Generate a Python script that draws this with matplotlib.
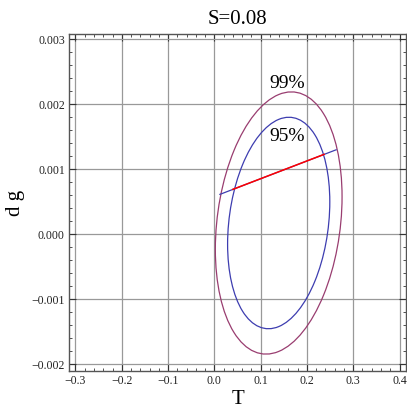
import matplotlib
matplotlib.use("Agg")
import matplotlib.pyplot as plt
import numpy as np
from matplotlib.patches import Ellipse
from matplotlib.transforms import Affine2D
from matplotlib.ticker import MultipleLocator, FuncFormatter

# ---- data ----
center_T = 0.139
center_g = 0.000175
sigma_T = 0.0451
sigma_g = 0.000664
rho = 0.20
chi2_levels = [5.991, 9.210]
level_labels = ["95%", "99%"]
level_colors = ["#3d3db0", "#993d70"]

line_T = [0.012, 0.263]
line_g = [0.000615, 0.00130]
red_T = [0.040, 0.237]
red_g = [0.000692, 0.00123]

label_pos_T = [0.157, 0.157]
label_pos_g = [0.00150, 0.00232]

plt.rcParams['font.family'] = ['Liberation Serif', 'DejaVu Serif']

fig = plt.figure(figsize=(4.07, 4.11), dpi=100)
ax = fig.add_axes([69/407, 1-371/411, (406-69)/407, (371-34)/411])

cov = np.array([[sigma_T**2, rho*sigma_T*sigma_g],
                [rho*sigma_T*sigma_g, sigma_g**2]])
L = np.linalg.cholesky(cov)
for c2, col in zip(chi2_levels, level_colors):
    s = np.sqrt(c2)
    M = np.eye(3)
    M[:2, :2] = L * s
    M[0, 2] = center_T
    M[1, 2] = center_g
    tr = Affine2D(M) + ax.transData
    e = Ellipse((0, 0), 2, 2, transform=tr, fill=False, edgecolor=col, lw=0.9, zorder=3)
    ax.add_patch(e)

ax.plot(line_T, line_g, color=level_colors[0], lw=0.9, zorder=4)
ax.plot(red_T, red_g, color="#ff0000", lw=1.1, zorder=5)

for t, g, lab in zip(label_pos_T, label_pos_g, level_labels):
    ax.text(t, g, lab, ha='center', va='center', fontsize=14, color='black', zorder=6)

ax.set_xlim(-0.314, 0.414)
ax.set_ylim(-0.0021, 0.00308)

ax.xaxis.set_major_locator(MultipleLocator(0.1))
ax.xaxis.set_minor_locator(MultipleLocator(0.02))
ax.yaxis.set_major_locator(MultipleLocator(0.001))
ax.yaxis.set_minor_locator(MultipleLocator(0.0002))

def fx(v, p):
    s = f"{v:.1f}"
    if s == "-0.0":
        s = "0.0"
    return s.replace("-", "\u2212")

def fy(v, p):
    s = f"{v:.3f}"
    if s == "-0.000":
        s = "0.000"
    return s.replace("-", "\u2212")

ax.xaxis.set_major_formatter(FuncFormatter(fx))
ax.yaxis.set_major_formatter(FuncFormatter(fy))

ax.tick_params(which='both', direction='in', top=True, right=True, labelsize=8.5, colors='#333333', labelcolor='#222222')
ax.tick_params(which='major', length=5, width=0.8, pad=3)
ax.tick_params(which='minor', length=2.5, width=0.6)

ax.grid(True, which='major', color='#999999', lw=0.9, zorder=0)
ax.set_axisbelow(True)

for sp in ax.spines.values():
    sp.set_color('#555555')
    sp.set_linewidth(1.0)

ax.set_title("S=0.08", fontsize=15, pad=7)
ax.set_xlabel("T", fontsize=15, labelpad=2)
ax.set_ylabel("d g", fontsize=15, labelpad=5)

fig.savefig("out.png", dpi=100)
